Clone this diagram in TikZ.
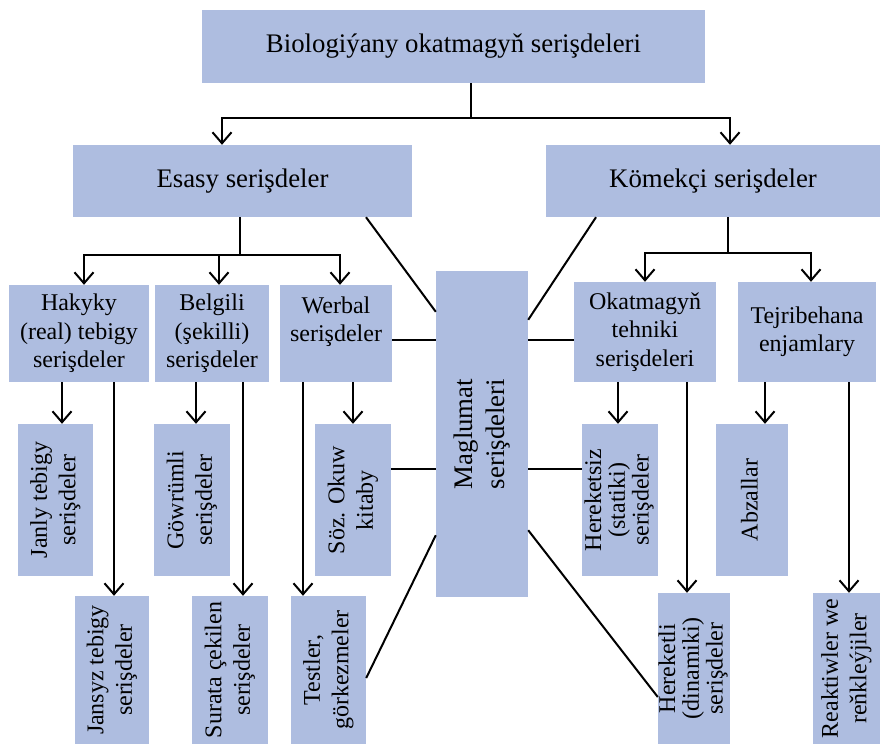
\documentclass[tikz,border=0pt]{standalone}
\usepackage{fontspec}
\setmainfont{Liberation Serif}
\usepackage{tikz}
\usetikzlibrary{arrows.meta}

\definecolor{boxblue}{RGB}{174,189,224}
\newcommand{\fbig}{\fontsize{26.8}{32}\selectfont}
\newcommand{\fsmall}{\fontsize{24}{28.5}\selectfont}
\newcommand{\ftight}{\fontsize{24}{23.5}\selectfont}
\newcommand{\vtext}[1]{\rotatebox{90}{\begin{tabular}{@{}c@{}}#1\end{tabular}}}

\begin{document}
\begin{tikzpicture}[x=1pt,y=-1pt]
\tikzstyle{box}=[fill=boxblue,inner sep=0pt,align=center,font=\fsmall];
\tikzstyle{myline}=[line width=2pt,draw=black];
\tikzstyle{myarrow}=[myline,-{Straight Barb[length=11pt,width=19pt]}];

\useasboundingbox (0,0) rectangle (880,744);

% top and second level
\node[box,font=\fbig,minimum width=503pt,minimum height=73pt] (bio) at (453.5,46.5) {Biologiýany okatmagyň serişdeleri};
\node[box,font=\fbig,minimum width=339pt,minimum height=72pt] (esasy) at (242.5,181) {Esasy serişdeler};
\node[box,font=\fbig,minimum width=334pt,minimum height=72pt] (komek) at (713,181) {Kömekçi serişdeler};

% third level
\node[box,minimum width=140pt,minimum height=97pt] (hakyky) at (79,333.5) {Hakyky\\(real) tebigy\\serişdeler};
\node[box,minimum width=114pt,minimum height=97pt] (belgili) at (212,333.5) {Belgili\\(şekilli)\\serişdeler};
\node[box,minimum width=112pt,minimum height=97pt] (werbal) at (336,333.5) {Werbal\\serişdeler\\[0pt]};
\node[box,minimum width=142pt,minimum height=100pt] (okat) at (645,332) {Okatmagyň\\tehniki\\serişdeleri};
\node[box,minimum width=138pt,minimum height=100pt] (tejri) at (807,332) {Tejribehana\\enjamlary};

\node[box,font=\fbig,minimum width=92pt,minimum height=326pt] (magl) at (482,434) {\rotatebox{90}{\begin{tabular}{@{}c@{}}Maglumat\\serişdeleri\end{tabular}}};

% upper row of vertical boxes
\node[box,minimum width=75pt,minimum height=152pt] (janly) at (55.5,500) {\vtext{Janly tebigy\\serişdeler}};
\node[box,minimum width=76pt,minimum height=152pt] (gowrum) at (192,500) {\vtext{Göwrümli\\serişdeler}};
\node[box,minimum width=76pt,minimum height=152pt] (soz) at (353,500) {\vtext{Söz. Okuw\\kitaby}};
\node[box,font=\ftight,minimum width=76pt,minimum height=152pt] (hsiz) at (620,500) {\vtext{Hereketsiz\\(statiki)\\serişdeler}};
\node[box,minimum width=72pt,minimum height=152pt] (abzal) at (752,500) {\vtext{Abzallar}};

% lower row of vertical boxes
\node[box,minimum width=74pt,minimum height=148pt] (jansyz) at (112,670) {\vtext{Jansyz tebigy\\serişdeler}};
\node[box,minimum width=76pt,minimum height=148pt] (surata) at (230,670) {\vtext{Surata çekilen\\serişdeler}};
\node[box,minimum width=75pt,minimum height=148pt] (testler) at (328.5,670) {\vtext{Testler,\\görkezmeler}};
\node[box,font=\ftight,minimum width=72pt,minimum height=151pt] (hli) at (694,668.5) {\vtext{Hereketli\\(dinamiki)\\serişdeler}};
\node[box,minimum width=67pt,minimum height=151pt] (reakt) at (846.5,668.5) {\vtext{Reaktiwler we\\reňkleýjiler}};

% forks
\coordinate (tf) at (471,118);
\coordinate (ta) at (222,118);
\coordinate (tb) at (730,118);
\draw[myline] (tf |- bio.south) -- (tf);
\draw[myarrow] (tf) -| (ta |- esasy.north);
\draw[myarrow] (tf) -| (tb |- komek.north);

\coordinate (ef) at (240,255);
\coordinate (ea) at (84,255);
\coordinate (eb) at (219,255);
\coordinate (ec) at (340,255);
\draw[myline] (ef |- esasy.south) -- (ef);
\draw[myarrow] (ef) -| (ea |- hakyky.north);
\draw[myarrow] (ef) -| (eb |- belgili.north);
\draw[myarrow] (ef) -| (ec |- werbal.north);

\coordinate (kf) at (728,253);
\coordinate (ka) at (645,253);
\coordinate (kb) at (811,253);
\draw[myline] (kf |- komek.south) -- (kf);
\draw[myarrow] (kf) -| (ka |- okat.north);
\draw[myarrow] (kf) -| (kb |- tejri.north);

% down arrows to the vertical boxes
\coordinate (h1) at (62,0);   \coordinate (h2) at (114,0);
\coordinate (b1) at (196,0);  \coordinate (b2) at (243,0);
\coordinate (w1) at (353,0);  \coordinate (w2) at (303,0);
\coordinate (o1) at (618,0);  \coordinate (o2) at (687,0);
\coordinate (j1) at (765,0);  \coordinate (j2) at (849,0);
\draw[myarrow] (h1 |- hakyky.south) -- (h1 |- janly.north);
\draw[myarrow] (h2 |- hakyky.south) -- (h2 |- jansyz.north);
\draw[myarrow] (b1 |- belgili.south) -- (b1 |- gowrum.north);
\draw[myarrow] (b2 |- belgili.south) -- (b2 |- surata.north);
\draw[myarrow] (w1 |- werbal.south) -- (w1 |- soz.north);
\draw[myarrow] (w2 |- werbal.south) -- (w2 |- testler.north);
\draw[myarrow] (o1 |- okat.south) -- (o1 |- hsiz.north);
\draw[myarrow] (o2 |- okat.south) -- (o2 |- hli.north);
\draw[myarrow] (j1 |- tejri.south) -- (j1 |- abzal.north);
\draw[myarrow] (j2 |- tejri.south) -- (j2 |- reakt.north);

% lines to Maglumat
\coordinate (m1) at ([yshift=-6.5pt]werbal.east);
\coordinate (m2) at ([yshift=31pt]soz.east);
\coordinate (m3) at ([yshift=-8pt]okat.west);
\coordinate (m4) at ([yshift=31pt]hsiz.west);
\draw[myline] (m1) -- (m1 -| magl.west);
\draw[myline] (m2) -- (m2 -| magl.west);
\draw[myline] (m3) -- (m3 -| magl.east);
\draw[myline] (m4) -- (m4 -| magl.east);
\draw[myline] ([xshift=123.5pt]esasy.south) -- ([yshift=-41pt]magl.north west);
\draw[myline] ([xshift=-117pt]komek.south) -- ([yshift=-49pt]magl.north east);
\draw[myline] ([yshift=-8pt]testler.east) -- ([yshift=62pt]magl.south west);
\draw[myline] ([yshift=-28.5pt]hli.west) -- ([yshift=67pt]magl.south east);

\end{tikzpicture}
\end{document}
